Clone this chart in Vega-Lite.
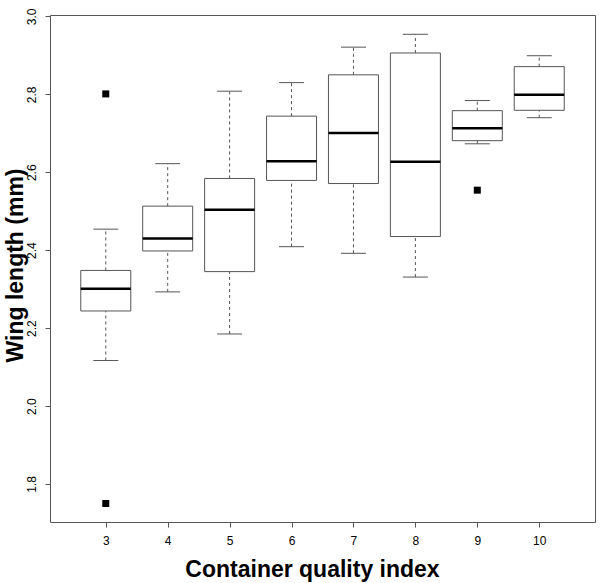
{
  "$schema": "https://vega.github.io/schema/vega-lite/v6.json",
  "width": 545,
  "height": 507,
  "autosize": {"type": "none"},
  "padding": {"left": 50, "top": 15, "right": 5, "bottom": 61},
  "background": "white",
  "config": {
    "view": {"stroke": "#555555", "strokeWidth": 1},
    "font": "Liberation Sans",
    "axis": {
      "grid": false,
      "domain": false,
      "tickColor": "#555555",
      "tickSize": 5,
      "labelFont": "Liberation Sans",
      "labelFontSize": 12,
      "labelColor": "black",
      "titleFont": "Liberation Sans",
      "titleFontSize": 23,
      "titleFontWeight": "bold",
      "titleColor": "black"
    }
  },
  "datasets": {
    "boxes": [
      {"g": 3, "lo": 2.117, "q1": 2.244, "med": 2.301, "q3": 2.348, "hi": 2.454},
      {"g": 4, "lo": 2.293, "q1": 2.398, "med": 2.43, "q3": 2.513, "hi": 2.622},
      {"g": 5, "lo": 2.185, "q1": 2.345, "med": 2.504, "q3": 2.584, "hi": 2.808},
      {"g": 6, "lo": 2.409, "q1": 2.579, "med": 2.628, "q3": 2.744, "hi": 2.83},
      {"g": 7, "lo": 2.392, "q1": 2.571, "med": 2.701, "q3": 2.85, "hi": 2.921},
      {"g": 8, "lo": 2.331, "q1": 2.435, "med": 2.627, "q3": 2.906, "hi": 2.954},
      {"g": 9, "lo": 2.673, "q1": 2.681, "med": 2.713, "q3": 2.758, "hi": 2.784},
      {"g": 10, "lo": 2.74, "q1": 2.759, "med": 2.799, "q3": 2.871, "hi": 2.899}
    ],
    "outliers": [
      {"g": 3, "v": 2.801},
      {"g": 3, "v": 1.75},
      {"g": 9, "v": 2.554}
    ]
  },
  "encoding": {
    "x": {
      "field": "g",
      "type": "quantitative",
      "scale": {"domain": [2.18, 10.82], "nice": false, "zero": false},
      "axis": {
        "values": [3, 4, 5, 6, 7, 8, 9, 10],
        "title": "Container quality index",
        "labelPadding": 8,
        "titleX": 262,
        "titleY": 54,
        "titleAnchor": null,
        "titleAlign": "center",
        "titleBaseline": "alphabetic"
      }
    }
  },
  "layer": [
    {
      "data": {"name": "boxes"},
      "mark": {"type": "rule", "strokeDash": [3, 3], "color": "#555555", "strokeWidth": 1},
      "encoding": {
        "y": {
          "field": "lo",
          "type": "quantitative",
          "scale": {"domain": [1.7025, 3.0035], "nice": false, "zero": false},
          "axis": {
            "values": [1.8, 2.0, 2.2, 2.4, 2.6, 2.8, 3.0],
            "format": ".1f",
            "title": "Wing length (mm)",
            "labelAngle": -90,
            "labelAlign": "center",
            "labelBaseline": "alphabetic",
            "labelPadding": 10,
            "titleAngle": -90,
            "titleX": -28,
            "titleY": 250,
            "titleAnchor": null,
            "titleAlign": "center",
            "titleBaseline": "alphabetic"
          }
        },
        "y2": {"field": "q1"}
      }
    },
    {
      "data": {"name": "boxes"},
      "mark": {"type": "rule", "strokeDash": [3, 3], "color": "#555555", "strokeWidth": 1},
      "encoding": {
        "y": {"field": "q3", "type": "quantitative"},
        "y2": {"field": "hi"}
      }
    },
    {
      "data": {"name": "boxes"},
      "mark": {"type": "tick", "orient": "horizontal", "size": 25, "thickness": 1, "color": "#555555", "opacity": 1},
      "encoding": {"y": {"field": "lo", "type": "quantitative"}}
    },
    {
      "data": {"name": "boxes"},
      "mark": {"type": "tick", "orient": "horizontal", "size": 25, "thickness": 1, "color": "#555555", "opacity": 1},
      "encoding": {"y": {"field": "hi", "type": "quantitative"}}
    },
    {
      "data": {"name": "boxes"},
      "mark": {"type": "bar", "size": 50, "fill": "white", "stroke": "#555555", "strokeWidth": 1},
      "encoding": {
        "y": {"field": "q1", "type": "quantitative"},
        "y2": {"field": "q3"}
      }
    },
    {
      "data": {"name": "boxes"},
      "mark": {"type": "tick", "orient": "horizontal", "size": 50, "thickness": 2.5, "color": "black", "opacity": 1},
      "encoding": {"y": {"field": "med", "type": "quantitative"}}
    },
    {
      "data": {"name": "outliers"},
      "mark": {"type": "point", "shape": "square", "filled": true, "size": 49, "color": "black", "opacity": 1},
      "encoding": {"y": {"field": "v", "type": "quantitative"}}
    }
  ]
}
